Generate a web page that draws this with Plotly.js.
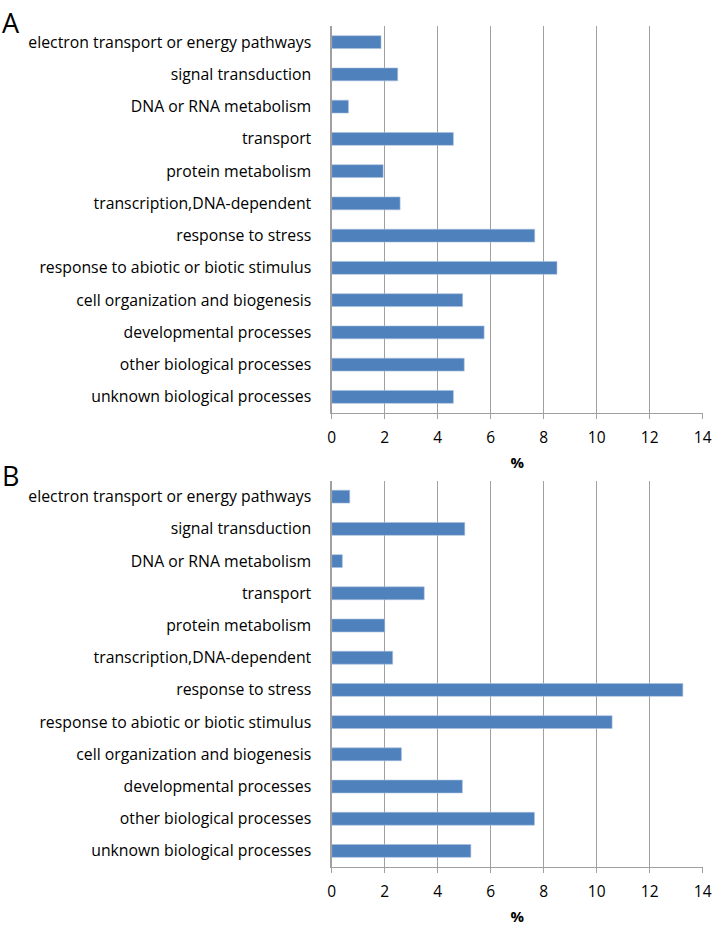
<!DOCTYPE html>
<html>
<head>
<meta charset="utf-8">
<script src="https://cdn.plot.ly/plotly-3.0.1.min.js"></script>
<style>html,body{margin:0;padding:0;background:#fff;}#chart{width:714px;height:929px;}</style>
</head>
<body>
<div id="chart"></div>
<script>
const categories = [
  "electron transport or energy pathways",
  "signal transduction",
  "DNA or RNA metabolism",
  "transport",
  "protein metabolism",
  "transcription,DNA-dependent",
  "response to stress",
  "response to abiotic or biotic stimulus",
  "cell organization and biogenesis",
  "developmental processes",
  "other biological processes",
  "unknown biological processes"
];
const valuesA = [1.86, 2.49, 0.63, 4.59, 1.94, 2.58, 7.66, 8.50, 4.94, 5.75, 5.00, 4.59];
const valuesB = [0.68, 5.02, 0.40, 3.49, 2.00, 2.30, 13.25, 10.58, 2.63, 4.93, 7.65, 5.25];
const xTicks = [0, 2, 4, 6, 8, 10, 12, 14];
const panelLabels = ["A", "B"];
const xTitle = "%";

const FONT = "Open Sans, sans-serif";
const barColor = "#4F81BD";
const gridColor = "#A0A0A0";

function bar(vals, xa, ya) {
  return {
    type: "bar", orientation: "h", x: vals, y: categories,
    xaxis: xa, yaxis: ya,
    marker: {color: barColor, line: {color: "#A9C0DE", width: 0.6}},
    hoverinfo: "x+y"
  };
}

function xAxis(anchor) {
  return {
    domain: [0.4646, 0.9842], anchor: anchor,
    range: [0, 14], tickvals: xTicks, ticktext: xTicks.map(String),
    showgrid: true, gridcolor: gridColor, gridwidth: 1.3,
    zeroline: false, showline: true, linecolor: gridColor, linewidth: 1.3,
    ticks: "outside", ticklen: 5, tickcolor: gridColor, tickwidth: 1.3,
    tickfont: {family: FONT, size: 15.5, color: "#000"},
    ticklabelstandoff: 5,
    title: {text: "<b>" + xTitle + "</b>", font: {family: FONT, size: 15, color: "#000"}, standoff: 10},
    automargin: false, fixedrange: true
  };
}
function yAxis(domain, anchor) {
  return {
    domain: domain, anchor: anchor, type: "category",
    autorange: "reversed",
    showgrid: false, zeroline: false,
    showline: true, linecolor: gridColor, linewidth: 1.3,
    ticks: "", ticklabelstandoff: 16,
    tickfont: {family: FONT, size: 15.8, color: "#000"},
    automargin: false, fixedrange: true
  };
}

const data = [bar(valuesA, "x", "y"), bar(valuesB, "x2", "y2")];

const layout = {
  width: 714, height: 929,
  margin: {l: 0, r: 0, t: 0, b: 0},
  paper_bgcolor: "#fff", plot_bgcolor: "#fff",
  showlegend: false, bargap: 0.6,
  xaxis: xAxis("y"),
  yaxis: yAxis([0.5554, 0.972], "x"),
  xaxis2: xAxis("y2"),
  yaxis2: yAxis([0.0667, 0.4827], "x2"),
  annotations: [
    {text: panelLabels[0], xref: "paper", yref: "paper", x: 0.0, y: 1 - 2/929, xanchor: "left", yanchor: "top", showarrow: false, font: {family: FONT, size: 27, color: "#000"}},
    {text: panelLabels[1], xref: "paper", yref: "paper", x: 0.0, y: 1 - 455/929, xanchor: "left", yanchor: "top", showarrow: false, font: {family: FONT, size: 27, color: "#000"}}
  ]
};

Plotly.newPlot("chart", data, layout, {displayModeBar: false, staticPlot: true});
</script>
</body>
</html>
